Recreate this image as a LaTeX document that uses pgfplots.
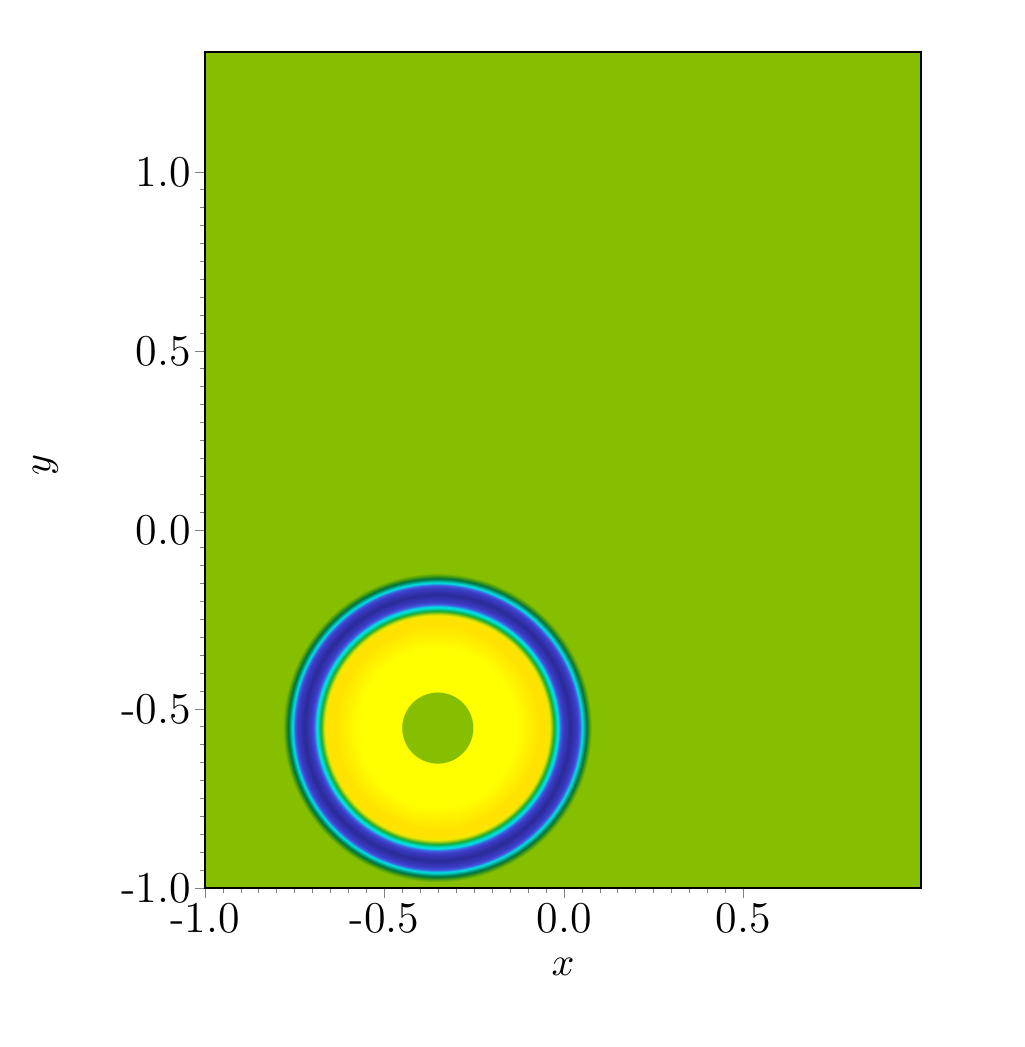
\documentclass[border=0pt]{standalone}
\usepackage{pgfplots}
\pgfplotsset{compat=1.18}

\definecolor{bgGreen}{RGB}{134,190,0}
\definecolor{ylw}{RGB}{255,255,0}
\definecolor{ylwDeep}{RGB}{255,226,0}
\definecolor{ylwEdge}{RGB}{240,232,0}
\definecolor{ylwGreen}{RGB}{150,200,16}
\definecolor{midGreen}{RGB}{20,170,50}
\definecolor{teal}{RGB}{0,208,176}
\definecolor{cyn}{RGB}{0,232,232}
\definecolor{ltBlue}{RGB}{64,96,224}
\definecolor{blu}{RGB}{60,60,200}
\definecolor{dkBlue}{RGB}{42,42,152}
\definecolor{dkTeal}{RGB}{0,168,144}
\definecolor{dkGreen}{RGB}{0,112,60}
\definecolor{oliveGreen}{RGB}{64,154,16}

% radial profile of the ring, radius r mapped to r/0.44*25bp
\pgfdeclareradialshading{ringfield}{\pgfpointorigin}{%
  color(0bp)=(bgGreen); color(5.68bp)=(bgGreen);
  color(5.70bp)=(ylw); color(12.5bp)=(ylw);
  color(16.2bp)=(ylwDeep); color(17.3bp)=(ylwDeep);
  color(17.78bp)=(ylwEdge); color(18.10bp)=(ylwGreen);
  color(18.45bp)=(midGreen); color(18.80bp)=(teal);
  color(19.10bp)=(cyn); color(19.50bp)=(ltBlue);
  color(19.89bp)=(blu); color(21.02bp)=(dkBlue);
  color(22.16bp)=(blu); color(22.56bp)=(ltBlue);
  color(22.90bp)=(cyn); color(23.24bp)=(dkTeal);
  color(23.58bp)=(dkGreen); color(23.98bp)=(oliveGreen);
  color(24.43bp)=(bgGreen); color(50bp)=(bgGreen)}

\begin{document}
\begin{tikzpicture}
\begin{axis}[
    name=ax,
    x=89.75pt, y=89.5pt,
    xmin=-1, xmax=0.995,
    ymin=-1, ymax=1.335,
    axis background/.style={fill=bgGreen},
    axis on top,
    tick align=outside,
    xtick pos=left, ytick pos=left,
    major tick length=2.5pt, minor tick length=1.25pt,
    xtick={-1,-0.5,0,0.5}, xticklabels={-1.0,-0.5,0.0,0.5},
    ytick={-1,-0.5,0,0.5,1}, yticklabels={-1.0,-0.5,0.0,0.5,1.0},
    minor tick num=9,
    tick label style={font=\fontsize{11}{13}\selectfont},
    xticklabel style={inner sep=1pt, yshift=-0.2pt},
    yticklabel style={xshift=2.5pt},
    xlabel={$x$}, ylabel={$y$},
    label style={font=\fontsize{13}{15}\selectfont, inner sep=0pt},
    every axis x label/.style={at={(axis description cs:0.5,-0.094)}, anchor=center},
    every axis y label/.style={at={(axis description cs:-0.223,0.506)}, rotate=90, anchor=center},
]
\addplot[scatter, only marks, mark=*, mark size=0pt,
    mark options={draw=none, fill=none},
    scatter/@pre marker code/.code={\shade[shading=ringfield, draw=none] (0pt,0pt) circle[radius=39.5pt];},
    scatter/@post marker code/.code={}]
    coordinates {(-0.353,-0.552)};
\end{axis}
\path ([shift={(-51.25pt,-39.75pt)}]ax.south west) rectangle ([shift={(25.75pt,13pt)}]ax.north east);
\end{tikzpicture}
\end{document}
